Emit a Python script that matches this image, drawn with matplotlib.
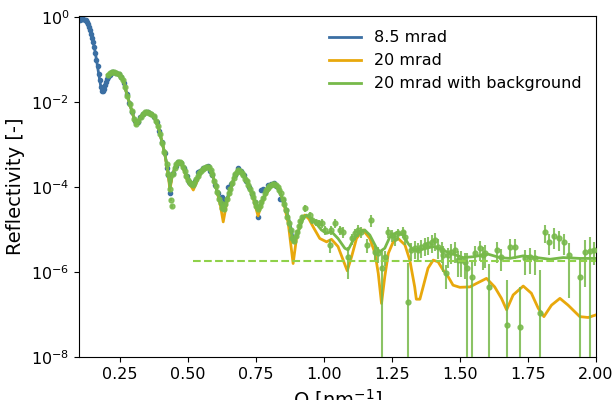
import numpy as np
import matplotlib
matplotlib.use('Agg')
import matplotlib.pyplot as plt
from matplotlib.ticker import NullLocator

# colours
c_blue = '#3b6fa3'
c_orange = '#e8a80c'
c_green = '#77b94a'
c_bkg = '#8fd14a'

# ---- 8.5 mrad : data (log10 R) and fit ----
q_blue = [0.100, 0.104, 0.108, 0.112, 0.116, 0.120, 0.124, 0.128, 0.132, 0.136,
          0.140, 0.144, 0.148, 0.152, 0.156, 0.160, 0.164, 0.168, 0.172, 0.176,
          0.180, 0.184, 0.188, 0.192, 0.196, 0.200, 0.204, 0.208, 0.212, 0.216,
          0.220, 0.225, 0.235, 0.245, 0.255, 0.265, 0.275, 0.285, 0.295, 0.305,
          0.315, 0.325, 0.335, 0.345, 0.355, 0.365, 0.375, 0.385, 0.395, 0.405,
          0.415, 0.425, 0.428, 0.434, 0.445, 0.455, 0.465, 0.475, 0.485, 0.495,
          0.505, 0.515, 0.525, 0.538, 0.545, 0.555, 0.565, 0.575, 0.580, 0.590,
          0.600, 0.610, 0.624, 0.635, 0.648, 0.660, 0.672, 0.685, 0.695, 0.705,
          0.715, 0.725, 0.735, 0.745, 0.758, 0.770, 0.777, 0.785, 0.795, 0.805,
          0.815, 0.825, 0.838, 0.848, 0.860]
lr_blue = [-0.07, -0.06, -0.05, -0.04, -0.05, -0.06, -0.08, -0.11, -0.17, -0.24,
           -0.31, -0.40, -0.49, -0.58, -0.71, -0.85, -1.00, -1.16, -1.33, -1.48,
           -1.64, -1.74, -1.75, -1.69, -1.61, -1.53, -1.46, -1.40, -1.36, -1.32,
           -1.30, -1.29, -1.31, -1.35, -1.42, -1.55, -1.80, -2.02, -2.23, -2.45,
           -2.48, -2.36, -2.28, -2.23, -2.24, -2.28, -2.35, -2.48, -2.69, -2.93,
           -3.20, -3.55, -3.72, -4.15, -3.68, -3.50, -3.42, -3.43, -3.56, -3.75,
           -3.88, -3.93, -3.85, -3.64, -3.62, -3.56, -3.53, -3.50, -3.62, -3.72,
           -3.95, -4.15, -4.23, -4.30, -3.99, -3.92, -3.72, -3.56, -3.62, -3.72,
           -3.85, -4.00, -4.17, -4.35, -4.70, -4.07, -4.05, -4.10, -3.95, -3.94,
           -3.91, -3.97, -4.27, -4.30, -4.55]

qf_blue = [0.100, 0.115, 0.128, 0.140, 0.152, 0.160, 0.170, 0.180, 0.186, 0.193,
           0.201, 0.213, 0.225, 0.240, 0.262, 0.275, 0.293, 0.309, 0.320, 0.330,
           0.350, 0.372, 0.391, 0.403, 0.415, 0.428, 0.434, 0.442, 0.455, 0.471,
           0.485, 0.495, 0.520, 0.544, 0.560, 0.575, 0.590, 0.605, 0.620, 0.630,
           0.642, 0.654, 0.670, 0.685, 0.700, 0.716, 0.740, 0.758, 0.770, 0.783,
           0.801, 0.814, 0.832, 0.850, 0.869, 0.887]
lf_blue = [-0.07, -0.05, -0.11, -0.31, -0.58, -0.85, -1.25, -1.64, -1.76, -1.68,
           -1.52, -1.36, -1.29, -1.33, -1.48, -1.80, -2.19, -2.52, -2.42, -2.32,
           -2.23, -2.31, -2.58, -2.89, -3.21, -3.68, -4.00, -3.75, -3.50, -3.40,
           -3.55, -3.76, -3.95, -3.68, -3.55, -3.52, -3.70, -4.05, -4.30, -4.40,
           -4.30, -4.10, -3.78, -3.62, -3.67, -3.84, -4.23, -4.55, -4.40, -4.20,
           -4.02, -3.92, -4.03, -4.31, -4.70, -5.20]

# ---- 20 mrad : fit ----
qf_orange = [0.205, 0.215, 0.225, 0.240, 0.262, 0.275, 0.293, 0.309, 0.320, 0.330,
             0.350, 0.372, 0.391, 0.403, 0.415, 0.428, 0.434, 0.442, 0.455, 0.471,
             0.485, 0.495, 0.520, 0.544, 0.560, 0.575, 0.590, 0.605, 0.620, 0.630,
             0.642, 0.654, 0.670, 0.685, 0.700, 0.716, 0.740, 0.758, 0.770, 0.783,
             0.801, 0.814, 0.832, 0.850, 0.869, 0.887, 0.900, 0.918, 0.930, 0.945,
             0.960, 0.985, 1.010, 1.028, 1.052, 1.071, 1.086, 1.102, 1.120, 1.144,
             1.169, 1.188, 1.200, 1.212, 1.224, 1.237, 1.255, 1.273, 1.298, 1.316,
             1.334, 1.340, 1.353, 1.365, 1.383, 1.402, 1.420, 1.438, 1.457, 1.475,
             1.500, 1.537, 1.561, 1.598, 1.628, 1.653, 1.672, 1.696, 1.733, 1.763,
             1.788, 1.809, 1.837, 1.868, 1.898, 1.941, 1.972, 2.000]
lf_orange = [-1.36, -1.31, -1.29, -1.33, -1.48, -1.80, -2.19, -2.54, -2.42, -2.33,
             -2.23, -2.31, -2.58, -2.89, -3.21, -3.72, -4.07, -3.75, -3.50, -3.40,
             -3.58, -3.80, -4.07, -3.70, -3.55, -3.52, -3.70, -4.05, -4.45, -4.82,
             -4.40, -4.12, -3.78, -3.62, -3.67, -3.84, -4.25, -4.68, -4.42, -4.22,
             -4.03, -3.92, -4.03, -4.31, -4.85, -5.80, -5.17, -4.78, -4.66, -4.75,
             -4.93, -5.21, -5.29, -5.23, -5.40, -5.72, -5.97, -5.64, -5.21, -5.01,
             -5.21, -5.56, -6.03, -6.74, -6.11, -5.56, -5.29, -5.21, -5.36, -5.72,
             -6.35, -6.64, -6.64, -6.35, -5.91, -5.72, -5.76, -5.95, -6.11, -6.31,
             -6.36, -6.35, -6.27, -6.15, -6.35, -6.62, -6.89, -6.54, -6.33, -6.50,
             -6.85, -7.05, -6.78, -6.62, -6.78, -7.05, -7.07, -7.01]

# ---- 20 mrad with background : data and fit ----
q_green = [0.205, 0.212, 0.220, 0.228, 0.236, 0.245, 0.254, 0.262, 0.270, 0.278,
           0.286, 0.294, 0.302, 0.310, 0.318, 0.326, 0.334, 0.342, 0.350, 0.358,
           0.366, 0.374, 0.382, 0.390, 0.398, 0.406, 0.414, 0.422, 0.428, 0.434,
           0.438, 0.441, 0.446, 0.452, 0.458, 0.464, 0.470, 0.476, 0.482, 0.488,
           0.494, 0.500, 0.506, 0.512, 0.518, 0.524, 0.530, 0.536, 0.542, 0.548,
           0.554, 0.560, 0.566, 0.572, 0.578, 0.584, 0.590, 0.596, 0.602, 0.608,
           0.614, 0.620, 0.626, 0.632, 0.638, 0.644, 0.650, 0.656, 0.662, 0.668,
           0.674, 0.680, 0.686, 0.692, 0.698, 0.704, 0.710, 0.716, 0.722, 0.728,
           0.734, 0.740, 0.746, 0.752, 0.758, 0.764, 0.770, 0.776, 0.782, 0.788,
           0.794, 0.800, 0.806, 0.812, 0.818, 0.824, 0.830, 0.836, 0.842, 0.848,
           0.854, 0.860, 0.866, 0.872, 0.878, 0.884, 0.890, 0.896, 0.902, 0.908,
           0.914, 0.920,
           0.930, 0.948, 0.958, 0.970, 0.982, 0.994, 1.004, 1.022, 1.028, 1.040,
           1.059, 1.071, 1.089, 1.102, 1.114, 1.126, 1.138, 1.157, 1.175, 1.188,
           1.200, 1.212, 1.224, 1.236, 1.249, 1.261, 1.273, 1.291, 1.298, 1.310,
           1.322, 1.334, 1.347, 1.359, 1.371, 1.383, 1.396, 1.408, 1.420, 1.433,
           1.438, 1.450, 1.457, 1.469, 1.482, 1.494, 1.506, 1.518, 1.527, 1.543,
           1.555, 1.574, 1.586, 1.592, 1.608, 1.635, 1.653, 1.672, 1.686, 1.702,
           1.720, 1.739, 1.757, 1.776, 1.794, 1.813, 1.828, 1.847, 1.865, 1.883,
           1.902, 1.941, 1.960, 1.978, 1.993]
lr_green = [-1.36, -1.32, -1.29, -1.29, -1.31, -1.35, -1.41, -1.48, -1.65, -1.86,
            -2.04, -2.21, -2.39, -2.52, -2.45, -2.35, -2.29, -2.24, -2.23, -2.25,
            -2.28, -2.33, -2.44, -2.57, -2.76, -2.96, -3.18, -3.45, -3.70, -4.05,
            -4.30, -4.45, -3.70, -3.55, -3.46, -3.42, -3.40, -3.44, -3.52, -3.62,
            -3.74, -3.84, -3.90, -3.93, -3.96, -3.90, -3.82, -3.73, -3.67, -3.62,
            -3.57, -3.55, -3.53, -3.52, -3.53, -3.60, -3.70, -3.86, -3.98, -4.12,
            -4.28, -4.38, -4.50, -4.52, -4.40, -4.27, -4.15, -4.05, -3.90, -3.78,
            -3.70, -3.64, -3.61, -3.63, -3.66, -3.72, -3.80, -3.86, -3.96, -4.05,
            -4.15, -4.24, -4.35, -4.45, -4.52, -4.45, -4.35, -4.25, -4.15, -4.08,
            -4.03, -3.98, -3.95, -3.92, -3.93, -3.96, -4.00, -4.06, -4.15, -4.27,
            -4.40, -4.55, -4.70, -4.85, -5.00, -5.20, -5.28, -5.15, -5.05, -4.92,
            -4.80, -4.70,
            -4.50, -4.66, -4.78, -4.82, -4.85, -4.85, -5.01, -5.36, -5.01, -4.85,
            -5.01, -5.05, -5.64, -5.21, -5.09, -5.01, -5.05, -5.36, -4.78, -5.52,
            -5.56, -5.91, -5.64, -5.05, -5.13, -5.21, -5.09, -5.05, -5.17, -6.70,
            -5.48, -5.44, -5.48, -5.40, -5.36, -5.33, -5.29, -5.25, -5.40, -5.48,
            -5.60, -6.03, -5.60, -5.52, -5.48, -5.72, -5.72, -5.76, -5.91, -6.11,
            -5.56, -5.44, -5.60, -5.56, -6.35, -5.48, -5.64, -7.25, -5.40, -5.40,
            -7.29, -5.68, -5.64, -5.68, -6.97, -5.05, -5.29, -5.15, -5.21, -5.29,
            -5.60, -6.11, -5.52, -5.50, -5.48]
# relative error (sigma / R)
rel_green = [0.04] * 30 + [0.08] * 82 + \
            [0.2, 0.2, 0.2, 0.2, 0.2, 0.25, 0.25, 0.35, 0.25, 0.25,
             0.25, 0.3, 0.7, 0.3, 0.3, 0.3, 0.3, 0.35, 0.3, 0.35,
             0.4, 1.6, 0.4, 0.3, 0.3, 0.35, 0.3, 0.3, 0.35, 7.0,
             0.45, 0.45, 0.45, 0.45, 0.45, 0.45, 0.45, 0.45, 0.5, 0.5,
             0.6, 0.57, 0.5, 0.5, 0.5, 0.6, 0.6, 0.6, 1.3, 1.5,
             0.5, 0.5, 0.55, 0.55, 2.5, 0.5, 0.55, 10.5, 0.5, 0.5,
             7.7, 0.6, 0.6, 0.6, 9.5, 0.45, 0.5, 0.5, 0.5, 0.5,
             0.9, 1.6, 0.85, 1.1, 0.55]

qf_green = [0.205, 0.215, 0.225, 0.240, 0.262, 0.275, 0.293, 0.309, 0.320, 0.330,
            0.350, 0.372, 0.391, 0.403, 0.415, 0.428, 0.434, 0.442, 0.455, 0.471,
            0.485, 0.495, 0.520, 0.544, 0.560, 0.575, 0.590, 0.605, 0.620, 0.630,
            0.642, 0.654, 0.670, 0.685, 0.700, 0.716, 0.740, 0.758, 0.770, 0.783,
            0.801, 0.814, 0.832, 0.850, 0.869, 0.887, 0.906, 0.924, 0.936, 0.967,
            0.991, 1.010, 1.028, 1.052, 1.077, 1.089, 1.108, 1.132, 1.150, 1.169,
            1.194, 1.206, 1.224, 1.243, 1.267, 1.291, 1.310, 1.328, 1.353, 1.378,
            1.402, 1.426, 1.457, 1.512, 1.549, 1.604, 1.647, 1.684, 1.733, 1.782,
            1.831, 1.880, 1.941, 2.000]
lf_green = [-1.36, -1.31, -1.29, -1.33, -1.48, -1.80, -2.19, -2.52, -2.42, -2.32,
            -2.23, -2.31, -2.58, -2.89, -3.21, -3.68, -4.00, -3.75, -3.50, -3.40,
            -3.55, -3.76, -3.95, -3.68, -3.55, -3.52, -3.70, -4.05, -4.35, -4.54,
            -4.35, -4.10, -3.78, -3.62, -3.67, -3.84, -4.23, -4.52, -4.40, -4.20,
            -4.02, -3.92, -4.03, -4.31, -4.70, -5.30, -5.05, -4.74, -4.66, -4.82,
            -5.01, -5.09, -5.05, -5.21, -5.44, -5.48, -5.25, -5.05, -5.01, -5.13,
            -5.44, -5.52, -5.44, -5.17, -5.07, -5.13, -5.33, -5.48, -5.48, -5.44,
            -5.40, -5.45, -5.54, -5.66, -5.64, -5.58, -5.66, -5.68, -5.62, -5.66,
            -5.70, -5.66, -5.68, -5.68]

# background level and where it is drawn
bkg_level = 1.85e-6
bkg_q = [0.52, 2.0]

fig = plt.figure(figsize=(6.13, 4.0), dpi=100)
ax = fig.add_axes([0.129, 0.1075, 0.843, 0.8525])

R_blue = 10 ** np.array(lr_blue)
ax.errorbar(q_blue, R_blue, yerr=0.06 * R_blue, fmt='o', ms=3, color=c_blue,
            elinewidth=1.2, capsize=0, zorder=2)
line_b, = ax.plot(qf_blue, 10 ** np.array(lf_blue), color=c_blue, lw=2, zorder=2)

line_o, = ax.plot(qf_orange, 10 ** np.array(lf_orange), color=c_orange, lw=2, zorder=3)

R_green = 10 ** np.array(lr_green)
ax.errorbar(q_green, R_green, yerr=np.array(rel_green) * R_green, fmt='o', ms=3.5,
            color=c_green, ecolor=c_green, elinewidth=1.5, capsize=0,
            alpha=0.85, zorder=4)
line_g, = ax.plot(qf_green, 10 ** np.array(lf_green), color=c_green, lw=2, zorder=5)
ax.plot(bkg_q, [bkg_level, bkg_level], '--', color=c_bkg, lw=1.5, zorder=5)

ax.set_yscale('log')
ax.set_xlim(0.1, 2.0)
ax.set_ylim(1e-8, 1.06)
ax.set_xticks([0.25, 0.5, 0.75, 1.0, 1.25, 1.5, 1.75, 2.0])
ax.set_yticks([1e-8, 1e-6, 1e-4, 1e-2, 1e0])
ax.yaxis.set_minor_locator(NullLocator())
ax.tick_params(labelsize=11.5)
ax.set_xlabel('Q [nm$^{-1}$]', fontsize=14)
ax.set_ylabel('Reflectivity [-]', fontsize=14)

ax.legend([line_b, line_o, line_g], ['8.5 mrad', '20 mrad', '20 mrad with background'],
          loc='upper right', frameon=False, fontsize=11.5, bbox_to_anchor=(1.0, 1.0))

fig.savefig('out.png', dpi=100)
